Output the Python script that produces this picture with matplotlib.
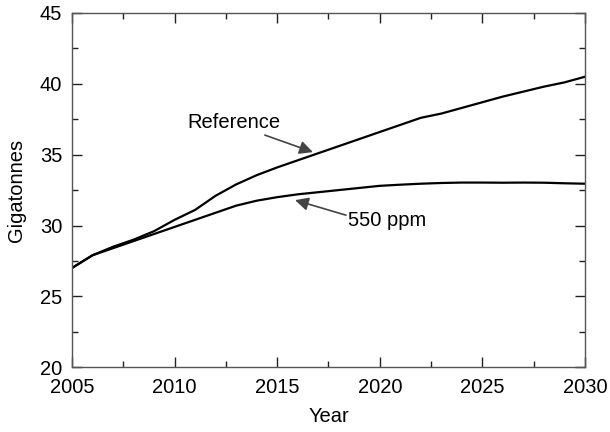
import numpy as np
from matplotlib import pyplot as plt
from matplotlib.ticker import MultipleLocator

plt.rcParams['font.family'] = ['Liberation Sans', 'DejaVu Sans']

years = np.arange(2005, 2031)
reference = [27.0, 27.9, 28.5, 29.0, 29.6, 30.4, 31.1, 32.1, 32.9, 33.55,
             34.1, 34.6, 35.1, 35.6, 36.1, 36.6, 37.1, 37.6, 37.9, 38.3,
             38.7, 39.1, 39.45, 39.8, 40.1, 40.5]
ppm550 = [27.0, 27.9, 28.4, 28.9, 29.4, 29.9, 30.4, 30.9, 31.4, 31.75,
          32.0, 32.2, 32.35, 32.5, 32.65, 32.8, 32.88, 32.95, 33.0, 33.03,
          33.03, 33.02, 33.03, 33.02, 32.98, 32.95]

fig = plt.figure(figsize=(6.1, 4.32), dpi=100)
ax = fig.add_axes([0.118, 0.150, 0.841, 0.820])

ax.plot(years, reference, color='black', lw=1.6)
ax.plot(years, ppm550, color='black', lw=1.6)

ax.set_xlim(2005, 2030)
ax.set_ylim(20, 45)
ax.xaxis.set_major_locator(MultipleLocator(5))
ax.xaxis.set_minor_locator(MultipleLocator(2.5))
ax.yaxis.set_major_locator(MultipleLocator(5))
ax.yaxis.set_minor_locator(MultipleLocator(2.5))

for s in ax.spines.values():
    s.set_color('#555555')
    s.set_linewidth(1.0)

ax.tick_params(which='both', direction='in', top=True, right=True,
               colors='#222222', labelcolor='black', labelsize=14.5, width=1.0)
ax.tick_params(which='major', length=7.5)
ax.tick_params(which='minor', length=4.5)
ax.tick_params(axis='x', which='major', pad=8)
ax.tick_params(axis='y', which='major', pad=7)

ax.set_xlabel('Year', fontsize=14.5, labelpad=7)
ax.set_ylabel('Gigatonnes', fontsize=14.5, labelpad=10)

arrow = dict(arrowstyle='-|>', color='#444444', lw=1.2, mutation_scale=20, shrinkA=0, shrinkB=0)
ax.text(2010.6, 36.9, 'Reference', fontsize=14.5, ha='left', va='baseline')
ax.annotate('', xy=(2016.74, 35.18), xytext=(2014.4, 36.38), arrowprops=arrow)
ax.text(2018.45, 30.0, '550 ppm', fontsize=14.5, ha='left', va='baseline')
ax.annotate('', xy=(2015.87, 31.79), xytext=(2018.35, 30.73), arrowprops=arrow)

fig.savefig('out.png', dpi=100)
